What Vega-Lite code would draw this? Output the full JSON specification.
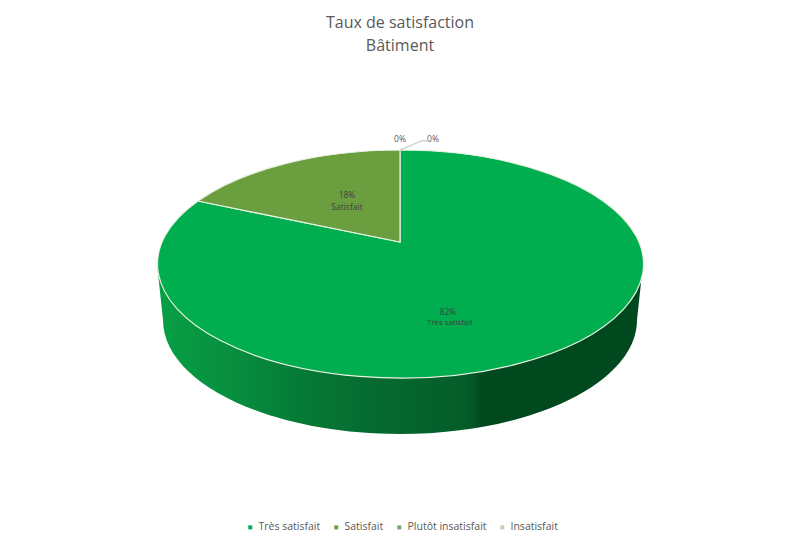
{
"$schema":"https://vega.github.io/schema/vega-lite/v6.json",
"width":800,"height":546,"padding":0,"autosize":{"type":"none"},
"background":"#ffffff",
"config":{"view":{"stroke":null},
 "legend":{"title":null,"orient":"none","direction":"horizontal","columns":4,"legendX":245,"legendY":522,"symbolType":"square","symbolSize":16,"symbolStrokeWidth":0,"labelFont":"Open Sans","labelFontSize":10.5,"labelColor":"#595959","columnPadding":10,"labelOffset":3,"labelLimit":200,"symbolOpacity":1}},
"title":{"text":["Taux de satisfaction","Bâtiment"],"anchor":"middle","frame":"group","orient":"top","offset":-70,"baseline":"bottom","font":"Open Sans","fontSize":16,"fontWeight":"normal","color":"#595959","lineHeight":23},
"data":{"values":[
{"categorie":"Très satisfait","part":0.82},
{"categorie":"Satisfait","part":0.18},
{"categorie":"Plutôt insatisfait","part":0},
{"categorie":"Insatisfait","part":0}
]},
"layer":[
{"transform":[{"filter":"datum.categorie === 'Très satisfait'"}],
 "mark":{"type":"point","filled":true,"size":640000,"opacity":1,"strokeWidth":0,
  "shape":"M-0.6075,-0.0225L-0.5925,0.1175A0.5925,0.285,0,0,0,0.5925,0.1175L0.6075,-0.0225Z",
  "fill":{"gradient":"linear","x1":0,"y1":0,"x2":1,"y2":0,"stops":[
   {"offset":0,"color":"#07A044"},{"offset":0.15,"color":"#078F3E"},{"offset":0.3,"color":"#067A36"},{"offset":0.45,"color":"#056A30"},
   {"offset":0.64,"color":"#055C29"},{"offset":0.67,"color":"#00481E"},{"offset":1,"color":"#00491F"}]}}},
{"transform":[{"filter":"datum.categorie === 'Très satisfait'"}],
 "mark":{"type":"point","filled":true,"size":640000,"opacity":1,"stroke":"#EAF2E4","strokeWidth":1.2,
  "shape":"M0,-0.0775L0,-0.3075A0.6075,0.285,0,1,1,-0.505,-0.18Z"},
 "encoding":{"color":{"field":"categorie","type":"nominal","sort":null,
   "scale":{"domain":["Très satisfait","Satisfait","Plutôt insatisfait","Insatisfait"],"range":["#00AE4F","#6B9E3E","#70A86A","#BCD8B0"]}}}},
{"transform":[{"filter":"datum.categorie === 'Satisfait'"}],
 "mark":{"type":"point","filled":true,"size":640000,"opacity":1,"stroke":"#EAF2E4","strokeWidth":1.2,
  "shape":"M0,-0.0775L-0.505,-0.18A0.6075,0.285,0,0,1,0,-0.3075Z"},
 "encoding":{"color":{"field":"categorie","type":"nominal","sort":null,
   "scale":{"domain":["Très satisfait","Satisfait","Plutôt insatisfait","Insatisfait"],"range":["#00AE4F","#6B9E3E","#70A86A","#BCD8B0"]}}}},
{"transform":[{"filter":"datum.categorie === 'Insatisfait'"}],
 "mark":{"type":"point","filled":false,"size":640000,"opacity":1,"stroke":"#BFBFBF","strokeWidth":1,
  "shape":"M0,-0.3075L0.054,-0.3305L0.0675,-0.33"}},
{"transform":[{"filter":"datum.categorie === 'Très satisfait'"}],
 "mark":{"type":"text","font":"Open Sans","fontSize":8.5,"color":"#404040","dx":48,"dy":39},
 "encoding":{"text":{"field":"part","type":"quantitative","format":".0%"}}},
{"transform":[{"filter":"datum.categorie === 'Très satisfait'"}],
 "mark":{"type":"text","font":"Open Sans","fontSize":7.8,"color":"#404040","dx":50,"dy":50},
 "encoding":{"text":{"field":"categorie","type":"nominal"}}},
{"transform":[{"filter":"datum.categorie === 'Satisfait'"}],
 "mark":{"type":"text","font":"Open Sans","fontSize":8.5,"color":"#404040","dx":-53,"dy":-78},
 "encoding":{"text":{"field":"part","type":"quantitative","format":".0%"}}},
{"transform":[{"filter":"datum.categorie === 'Satisfait'"}],
 "mark":{"type":"text","font":"Open Sans","fontSize":8.5,"color":"#404040","dx":-53,"dy":-66},
 "encoding":{"text":{"field":"categorie","type":"nominal"}}},
{"transform":[{"filter":"datum.categorie === 'Plutôt insatisfait'"}],
 "mark":{"type":"text","font":"Open Sans","fontSize":8.5,"color":"#595959","dx":0,"dy":-134},
 "encoding":{"text":{"field":"part","type":"quantitative","format":".0%"}}},
{"transform":[{"filter":"datum.categorie === 'Insatisfait'"}],
 "mark":{"type":"text","font":"Open Sans","fontSize":8.5,"color":"#595959","dx":33,"dy":-134},
 "encoding":{"text":{"field":"part","type":"quantitative","format":".0%"}}}
]
}
